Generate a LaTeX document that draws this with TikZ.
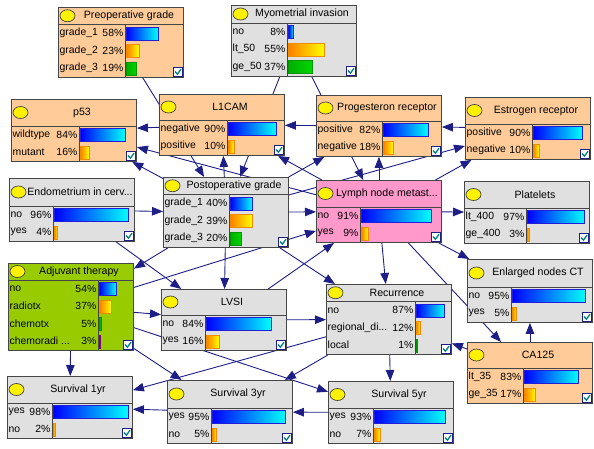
\documentclass[tikz,border=0pt]{standalone}
\usepackage{fontspec}
\setmainfont{Liberation Sans}
\usetikzlibrary{arrows.meta,backgrounds}

\definecolor{peach}{RGB}{255,204,153}
\definecolor{lightgrey}{RGB}{224,224,224}
\definecolor{pinkish}{RGB}{255,153,204}
\definecolor{lime}{RGB}{153,204,0}
\definecolor{arcblue}{RGB}{30,30,135}
\definecolor{frameg}{RGB}{70,70,70}
\definecolor{barblue}{RGB}{30,30,220}
\definecolor{barorange}{RGB}{240,140,0}
\definecolor{bargreen}{RGB}{0,150,0}
\definecolor{greenleft}{RGB}{0,175,0}
\definecolor{greenright}{RGB}{0,215,0}
\definecolor{checkteal}{RGB}{0,128,128}

\newcommand{\tdots}{...}

% #1 name, #2 top left, #3 fill, #4 height, #5 header height, #6 column, #7 title, #8 rows
\newcommand{\bnnode}[8]{%
  \node[bnbox, fill=#3, minimum height=#4pt] (#1) at #2 {};
  \begin{scope}[shift={(#1.north west)}]
    \draw[frame] (0,#5) -- (125,#5) (#6,#5) -- (#6,#4);
    \draw[fill=yellow, draw=black!75, line width=0.7pt] (9.5,#5/2) ellipse (7.5pt and 6pt);
    \node[titletext] at (71,#5/2) {#7};
    \foreach \lab/\pct/\val/\bcol [count=\i from 0] in {#8} {
      \node[rowtext, anchor=west] at (1.5,{#5+17.5*(\i+0.5)}) {\lab};
      \node[rowtext, anchor=east] at (#6-1.5,{#5+17.5*(\i+0.5)}) {\pct\%};
      \draw[\bcol] (#6+1.5,{#5+17.5*\i+2.5}) rectangle ++({\val*(125-#6-4)},13);
    }
    \draw[chkbox] (115,#4-10) rectangle (124.5,#4-0.5);
    \draw[chkmark] (117,#4-5.5) -- (119.4,#4-2.8) -- (123,#4-7.8);
  \end{scope}
}

\begin{document}
\begin{tikzpicture}[
    x=1pt, y=-1pt,
    bnbox/.style={rectangle, draw=frameg, line width=0.9pt, minimum width=125pt, inner sep=0pt, anchor=north west},
    frame/.style={draw=frameg, line width=0.9pt},
    arrow/.style={->, >={Triangle[length=11pt, width=8.5pt]}, draw=arcblue, line width=0.9pt},
    titletext/.style={font=\fontsize{10.6}{12}\selectfont, inner sep=0pt},
    rowtext/.style={font=\fontsize{10.4}{12}\selectfont, inner sep=0pt},
    sone/.style={left color=blue, right color=cyan, draw=barblue, line width=0.6pt},
    stwo/.style={left color=orange, right color=yellow, draw=barorange, line width=0.6pt},
    sthree/.style={left color=greenleft, right color=greenright, draw=bargreen, line width=0.6pt},
    sfour/.style={fill=violet!80!red, draw=violet, line width=0.6pt},
    chkbox/.style={fill=white, draw=arcblue, line width=0.7pt},
    chkmark/.style={draw=checkteal, line width=1.3pt}
]
\useasboundingbox (0,0) rectangle (594,448);

% Top row
\bnnode{preg}{(58,7)}{peach}{70}{17.5}{67}{Preoperative grade}{grade\_1/58/0.58/sone, grade\_2/23/0.23/stwo, grade\_3/19/0.19/sthree}
\bnnode{myo}{(231,5)}{lightgrey}{71}{18}{56}{Myometrial invasion}{no/8/0.08/sone, lt\_50/55/0.55/stwo, ge\_50/37/0.37/sthree}

% Receptors and markers
\bnnode{p53}{(11,99)}{peach}{62}{27}{68}{p53}{wildtype/84/0.84/sone, mutant/16/0.16/stwo}
\bnnode{lcam}{(159,94)}{peach}{61}{26}{68}{L1CAM}{negative/90/0.90/sone, positive/10/0.10/stwo}
\bnnode{prog}{(316,95)}{peach}{61}{26}{66}{Progesteron receptor}{positive/82/0.82/sone, negative/18/0.18/stwo}
\bnnode{estr}{(465,97)}{peach}{62}{27}{67}{Estrogen receptor}{positive/90/0.90/sone, negative/10/0.10/stwo}

% Middle row
\bnnode{endo}{(9,178)}{lightgrey}{63}{28}{44}{Endometrium in cerv...}{no/96/0.96/sone, yes/4/0.04/stwo}
\bnnode{postg}{(163,177)}{lightgrey}{70}{17.5}{66}{Postoperative grade}{grade\_1/40/0.40/sone, grade\_2/39/0.39/stwo, grade\_3/20/0.20/sthree}
\bnnode{lymph}{(316,180)}{pinkish}{62}{27}{44}{Lymph node metast...}{no/91/0.91/sone, yes/9/0.09/stwo}
\bnnode{plat}{(464,181)}{lightgrey}{62}{27}{62}{Platelets}{lt\_400/97/0.97/sone, ge\_400/3/0.03/stwo}

% Therapy, LVSI, recurrence
\bnnode{adj}{(8,263)}{lime}{87}{17}{90}{Adjuvant therapy}{no/54/0.54/sone, radiotx/37/0.37/stwo, chemotx/5/0.05/sthree, chemoradi \tdots/3/0.03/sfour}
\bnnode{lvsi}{(161,289)}{lightgrey}{61}{26}{44}{LVSI}{no/84/0.84/sone, yes/16/0.16/stwo}
\bnnode{recur}{(326,284)}{lightgrey}{70}{17.5}{89}{Recurrence}{no/87/0.87/sone, regional\_di\tdots/12/0.12/stwo, local/1/0.01/sthree}
\bnnode{enct}{(467,259)}{lightgrey}{63}{28}{44}{Enlarged nodes CT}{no/95/0.95/sone, yes/5/0.05/stwo}
\bnnode{ca}{(467,342)}{peach}{61}{26}{56}{CA125}{lt\_35/83/0.83/sone, ge\_35/17/0.17/stwo}

% Survival
\bnnode{surv1}{(7,376)}{lightgrey}{62}{27}{45}{Survival 1yr}{yes/98/0.98/sone, no/2/0.02/stwo}
\bnnode{surv3}{(167,380)}{lightgrey}{63}{28}{44}{Survival 3yr}{yes/95/0.95/sone, no/5/0.05/stwo}
\bnnode{surv5}{(328,381)}{lightgrey}{62}{27}{45}{Survival 5yr}{yes/93/0.93/sone, no/7/0.07/stwo}

% Arcs
\begin{scope}[on background layer]
\draw[arrow] (preg) -- (postg);
\draw[arrow] (myo) -- (postg);
\draw[arrow] (myo) -- (lymph);
\draw[arrow] (lcam) -- (p53);
\draw[arrow] (prog) -- (lcam);
\draw[arrow] (estr) -- (prog);
\draw[arrow] (postg) -- (estr);
\draw[arrow] (lymph) -- (estr);
\draw[arrow] (lymph) -- (prog);
\draw[arrow] (postg) -- (prog);
\draw[arrow] (postg) -- (lcam);
\draw[arrow] (lymph) -- (lcam);
\draw[arrow] (lymph) -- (p53);
\draw[arrow] (postg) -- (p53);
\draw[arrow] (endo) -- (postg);
\draw[arrow] (endo) -- (lvsi);
\draw[arrow] (postg) -- (adj);
\draw[arrow] (postg) -- (lvsi);
\draw[arrow] (postg) -- (lymph);
\draw[arrow] (postg) -- (recur);
\draw[arrow] (adj) -- (lymph);
\draw[arrow] (adj) -- (lvsi);
\draw[arrow] (adj) -- (surv1);
\draw[arrow] (adj) -- (surv3);
\draw[arrow] (adj) -- (surv5);
\draw[arrow] (lvsi) -- (lymph);
\draw[arrow] (lvsi) -- (recur);
\draw[arrow] (lymph) -- (plat);
\draw[arrow] (lymph) -- (enct);
\draw[arrow] (lymph) -- (ca);
\draw[arrow] (lymph) -- (recur);
\draw[arrow] (ca) -- (enct);
\draw[arrow] (ca) -- (recur);
\draw[arrow] (recur) -- (surv5);
\draw[arrow] (recur) -- (surv3);
\draw[arrow] (recur) -- (surv1);
\draw[arrow] (surv3) -- (surv1);
\draw[arrow] (surv5) -- (surv3);
\end{scope}

\end{tikzpicture}
\end{document}
